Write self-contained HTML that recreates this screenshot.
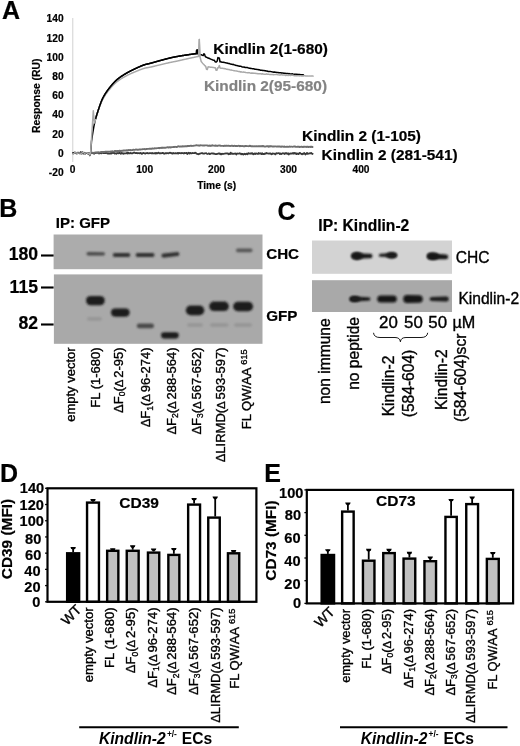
<!DOCTYPE html>
<html><head><meta charset="utf-8"><style>
html,body{margin:0;padding:0;background:#fff;}
svg{display:block;font-family:"Liberation Sans", sans-serif;will-change:transform;}
</style></head><body>
<svg width="520" height="746" viewBox="0 0 520 746">
<defs>
<filter id="bl10" x="-50%" y="-100%" width="200%" height="300%"><feGaussianBlur stdDeviation="1.0"/></filter>
<filter id="bl15" x="-50%" y="-100%" width="200%" height="300%"><feGaussianBlur stdDeviation="1.5"/></filter>
<filter id="bl8" x="-50%" y="-100%" width="200%" height="300%"><feGaussianBlur stdDeviation="0.8"/></filter>
<filter id="bl9" x="-50%" y="-100%" width="200%" height="300%"><feGaussianBlur stdDeviation="0.9"/></filter>
<filter id="bl12" x="-50%" y="-100%" width="200%" height="300%"><feGaussianBlur stdDeviation="1.2"/></filter>
<filter id="bl5" x="-50%" y="-100%" width="200%" height="300%"><feGaussianBlur stdDeviation="0.5"/></filter>
</defs>
<rect width="520" height="746" fill="#fff"/>
<text x="2" y="19" font-size="25" font-weight="bold" text-anchor="start" fill="#000" stroke="#000" stroke-width="0.2">A</text>
<line x1="72.7" y1="18" x2="72.7" y2="162" stroke="#dedede" stroke-width="1.4"/>
<text x="63.6" y="22.200000000000003" font-size="10.2" font-weight="bold" text-anchor="end" fill="#000" stroke="#000" stroke-width="0.2">140</text>
<text x="63.6" y="41.6" font-size="10.2" font-weight="bold" text-anchor="end" fill="#000" stroke="#000" stroke-width="0.2">120</text>
<text x="63.6" y="60.800000000000004" font-size="10.2" font-weight="bold" text-anchor="end" fill="#000" stroke="#000" stroke-width="0.2">100</text>
<text x="63.6" y="80.0" font-size="10.2" font-weight="bold" text-anchor="end" fill="#000" stroke="#000" stroke-width="0.2">80</text>
<text x="63.6" y="99.19999999999999" font-size="10.2" font-weight="bold" text-anchor="end" fill="#000" stroke="#000" stroke-width="0.2">60</text>
<text x="63.6" y="118.39999999999999" font-size="10.2" font-weight="bold" text-anchor="end" fill="#000" stroke="#000" stroke-width="0.2">40</text>
<text x="63.6" y="137.79999999999998" font-size="10.2" font-weight="bold" text-anchor="end" fill="#000" stroke="#000" stroke-width="0.2">20</text>
<text x="63.6" y="157.1" font-size="10.2" font-weight="bold" text-anchor="end" fill="#000" stroke="#000" stroke-width="0.2">0</text>
<text x="63.6" y="176.4" font-size="10.2" font-weight="bold" text-anchor="end" fill="#000" stroke="#000" stroke-width="0.2">-20</text>
<text x="72.5" y="172.7" font-size="10.2" font-weight="bold" text-anchor="middle" fill="#000" stroke="#000" stroke-width="0.2">0</text>
<text x="144.7" y="172.7" font-size="10.2" font-weight="bold" text-anchor="middle" fill="#000" stroke="#000" stroke-width="0.2">100</text>
<text x="216.5" y="172.7" font-size="10.2" font-weight="bold" text-anchor="middle" fill="#000" stroke="#000" stroke-width="0.2">200</text>
<text x="288.5" y="172.7" font-size="10.2" font-weight="bold" text-anchor="middle" fill="#000" stroke="#000" stroke-width="0.2">300</text>
<text x="361" y="172.7" font-size="10.2" font-weight="bold" text-anchor="middle" fill="#000" stroke="#000" stroke-width="0.2">400</text>
<text x="216.7" y="189" font-size="10.2" font-weight="bold" text-anchor="middle" fill="#000" stroke="#000" stroke-width="0.2">Time (s)</text>
<text x="39.8" y="95.7" font-size="10.4" font-weight="bold" text-anchor="middle" fill="#000" stroke="#000" stroke-width="0.2" transform="rotate(-90 39.8 95.7)">Response (RU)</text>
<polyline points="72.50,153.74 73.20,153.33 73.90,153.23 74.60,152.64 75.30,153.12 76.00,153.09 76.70,153.18 77.40,153.01 78.10,153.19 78.80,153.06 79.50,152.81 80.20,153.47 80.90,153.46 81.60,153.71 82.30,153.22 83.00,153.08 83.70,153.04 84.40,152.74 85.10,153.49 85.80,152.87 86.50,152.84 87.20,153.14 87.90,153.65 88.60,153.27 89.30,152.89 90.00,152.99 90.70,153.39 91.40,153.15 92.10,152.97 92.80,153.13 93.50,153.42 94.20,153.79 94.90,152.83 95.60,153.01 96.30,152.96 97.00,152.47 97.70,152.92 98.40,152.89 99.10,153.54 99.80,153.16 100.50,152.71 101.20,153.39 101.90,153.09 102.60,152.68 103.30,153.02 104.00,153.02 104.70,152.94 105.40,153.21 106.10,152.53 106.80,153.12 107.50,153.50 108.20,153.46 108.90,153.53 109.60,153.54 110.30,153.65 111.00,152.86 111.70,153.45 112.40,152.64 113.10,153.02 113.80,152.63 114.50,153.51 115.20,153.60 115.90,153.14 116.60,153.73 117.30,153.00 118.00,153.25 118.70,153.25 119.40,152.88 120.10,153.33 120.80,153.78 121.50,152.89 122.20,153.47 122.90,153.15 123.60,153.73 124.30,153.35 125.00,153.40 125.70,153.39 126.40,153.27 127.10,152.78 127.80,153.62 128.50,152.79 129.20,153.27 129.90,153.38 130.60,152.95 131.30,153.24 132.00,153.55 132.70,153.19 133.40,152.93 134.10,152.33 134.80,152.91 135.50,153.02 136.20,153.05 136.90,152.91 137.60,153.31 138.30,153.03 139.00,153.17 139.70,153.40 140.40,152.94 141.10,153.11 141.80,153.85 142.50,153.46 143.20,152.81 143.90,153.18 144.60,153.37 145.30,153.57 146.00,153.24 146.70,153.04 147.40,152.98 148.10,153.39 148.80,153.29 149.50,153.05 150.20,153.14 150.90,153.08 151.60,153.42 152.30,152.99 153.00,153.35 153.70,153.46 154.40,153.35 155.10,152.95 155.80,153.60 156.50,153.00 157.20,153.33 157.90,152.97 158.60,152.68 159.30,153.27 160.00,153.29 160.70,153.18 161.40,153.28 162.10,153.01 162.80,152.98 163.50,153.15 164.20,153.77 164.90,153.44 165.60,153.04 166.30,153.37 167.00,153.06 167.70,153.06 168.40,153.46 169.10,153.04 169.80,152.70 170.50,152.93 171.20,153.23 171.90,153.24 172.60,153.57 173.30,152.99 174.00,153.42 174.70,153.33 175.40,153.16 176.10,153.45 176.80,153.35 177.50,152.94 178.20,153.52 178.90,152.83 179.60,153.22 180.30,153.20 181.00,153.33 181.70,152.98 182.40,153.19 183.10,153.16 183.80,153.50 184.50,152.96 185.20,153.22 185.90,153.12 186.60,152.81 187.30,154.00 188.00,153.18 188.70,152.75 189.40,153.62 190.10,152.88 190.80,153.31 191.50,153.46 192.20,153.01 192.90,153.07 193.60,153.04 194.30,153.16 195.00,152.71 195.70,152.83 196.40,153.57 197.10,153.96 197.80,154.03 198.50,154.23 199.20,153.64 199.90,153.80 200.60,153.47 201.30,153.04 202.00,153.26 202.70,153.26 203.40,153.72 204.10,153.70 204.80,153.43 205.50,153.25 206.20,153.04 206.90,153.76 207.60,154.00 208.30,153.72 209.00,153.30 209.70,154.01 210.40,153.82 211.10,153.49 211.80,153.36 212.50,153.37 213.20,153.78 213.90,153.43 214.60,153.81 215.30,154.02 216.00,154.07 216.70,154.01 217.40,153.84 218.10,153.68 218.80,153.33 219.50,153.33 220.20,154.20 220.90,153.66 221.60,154.23 222.30,153.76 223.00,154.03 223.70,153.76 224.40,153.59 225.10,153.55 225.80,153.41 226.50,153.45 227.20,153.63 227.90,153.34 228.60,154.25 229.30,153.61 230.00,154.12 230.70,152.63 231.40,153.65 232.10,153.90 232.80,153.48 233.50,153.90 234.20,153.87 234.90,153.38 235.60,153.63 236.30,154.52 237.00,153.49 237.70,153.57 238.40,153.53 239.10,153.69 239.80,153.15 240.50,153.63 241.20,154.24 241.90,153.74 242.60,153.97 243.30,154.56 244.00,154.03 244.70,153.70 245.40,154.27 246.10,154.06 246.80,153.64 247.50,154.23 248.20,153.10 248.90,153.59 249.60,153.61 250.30,153.33 251.00,153.77 251.70,153.27 252.40,153.23 253.10,154.36 253.80,154.02 254.50,153.49 255.20,154.04 255.90,153.41 256.60,153.70 257.30,153.74 258.00,154.05 258.70,153.02 259.40,153.63 260.10,153.58 260.80,153.27 261.50,154.03 262.20,153.24 262.90,154.11 263.60,153.89 264.30,154.01 265.00,153.48 265.70,153.72 266.40,152.94 267.10,153.43 267.80,153.35 268.50,153.72 269.20,153.49 269.90,153.62 270.60,153.40 271.30,154.27 272.00,154.19 272.70,153.43 273.40,153.58 274.10,153.56 274.80,153.95 275.50,154.40 276.20,153.13 276.90,153.26 277.60,153.32 278.30,153.22 279.00,153.05 279.70,153.93 280.40,153.41 281.10,154.08 281.80,153.72 282.50,153.25 283.20,153.51 283.90,153.22 284.60,154.01 285.30,153.54 286.00,153.00 286.70,153.63 287.40,153.76 288.10,153.31 288.80,154.46 289.50,153.61 290.20,153.74 290.90,153.39 291.60,153.67 292.30,153.58 293.00,153.03 293.70,153.68 294.40,153.01 295.10,153.67 295.80,153.14 296.50,154.12 297.20,153.51 297.90,153.93 298.60,154.13 299.30,153.11 300.00,152.82 300.70,153.44 301.40,153.88 302.10,154.35 302.80,153.66 303.50,153.88 304.20,152.99 304.90,153.88 305.60,154.50 306.30,153.65 307.00,152.96 307.70,153.90 308.40,153.53 309.10,153.57 309.80,153.18 310.50,153.44 311.20,152.94 311.90,153.66 312.60,153.89 313.30,154.33" fill="none" stroke="#383838" stroke-width="1.8" stroke-linejoin="round"/>
<polyline points="72.50,153.15 73.30,153.30 74.10,152.87 74.90,152.44 75.70,152.60 76.50,153.50 77.30,152.82 78.10,152.80 78.90,152.75 79.70,153.20 80.50,152.82 81.30,152.74 82.10,152.55 82.90,152.97 83.70,153.30 84.50,152.96 85.30,153.26 86.10,153.05 86.90,153.04 87.70,153.05 88.50,153.01 89.30,153.31 90.10,153.07 90.90,152.85 91.70,152.90 92.50,152.81 93.30,152.84 94.10,152.74 94.90,152.71 95.70,152.37 96.50,152.60 97.30,152.68 98.10,152.22 98.90,152.61 99.70,152.36 100.50,152.22 101.30,151.93 102.10,152.30 102.90,151.94 103.70,151.95 104.50,152.05 105.30,151.76 106.10,151.71 106.90,151.63 107.70,151.73 108.50,151.77 109.30,151.69 110.10,151.63 110.90,151.46 111.70,151.48 112.50,151.30 113.30,151.64 114.10,151.32 114.90,150.94 115.70,151.01 116.50,151.36 117.30,150.86 118.10,150.94 118.90,151.01 119.70,150.73 120.50,150.99 121.30,151.03 122.10,150.60 122.90,150.83 123.70,150.47 124.50,150.40 125.30,150.53 126.10,150.47 126.90,150.29 127.70,150.45 128.50,150.05 129.30,150.08 130.10,149.99 130.90,150.21 131.70,150.16 132.50,150.08 133.30,149.73 134.10,149.89 134.90,149.88 135.70,149.51 136.50,149.57 137.30,149.74 138.10,149.69 138.90,149.57 139.70,149.55 140.50,149.46 141.30,149.38 142.10,149.28 142.90,149.11 143.70,149.15 144.50,149.07 145.30,149.42 146.10,149.05 146.90,148.96 147.70,148.87 148.50,148.83 149.30,148.75 150.10,148.81 150.90,148.67 151.70,148.74 152.50,148.46 153.30,148.56 154.10,148.58 154.90,148.22 155.70,148.36 156.50,148.31 157.30,148.17 158.10,148.09 158.90,147.83 159.70,148.22 160.50,147.85 161.30,147.75 162.10,147.98 162.90,147.55 163.70,147.91 164.50,147.77 165.30,147.74 166.10,147.57 166.90,147.36 167.70,147.20 168.50,147.64 169.30,147.30 170.10,147.23 170.90,147.49 171.70,147.10 172.50,147.10 173.30,147.05 174.10,147.01 174.90,146.81 175.70,146.83 176.50,147.05 177.30,146.91 178.10,146.30 178.90,146.39 179.70,146.68 180.50,146.56 181.30,146.46 182.10,146.61 182.90,146.13 183.70,146.52 184.50,146.31 185.30,146.31 186.10,146.21 186.90,146.24 187.70,146.02 188.50,145.92 189.30,146.06 190.10,145.92 190.90,145.65 191.70,145.98 192.50,145.90 193.30,145.88 194.10,145.62 194.90,145.60 195.70,145.44 196.50,145.29 197.30,145.41 198.10,145.44 198.90,145.33 199.70,145.71 200.50,145.21 201.30,145.34 202.10,145.37 202.90,145.67 203.70,145.45 204.50,145.45 205.30,145.38 206.10,145.41 206.90,145.34 207.70,145.70 208.50,145.65 209.30,145.72 210.10,145.48 210.90,145.97 211.70,145.45 212.50,145.30 213.30,145.58 214.10,145.65 214.90,145.76 215.70,145.50 216.50,145.76 217.30,145.93 218.10,145.56 218.90,145.59 219.70,145.45 220.50,145.76 221.30,145.86 222.10,145.86 222.90,145.88 223.70,145.98 224.50,145.80 225.30,145.93 226.10,145.66 226.90,145.69 227.70,145.86 228.50,145.71 229.30,145.93 230.10,146.06 230.90,145.92 231.70,145.76 232.50,145.77 233.30,146.10 234.10,145.79 234.90,145.93 235.70,145.89 236.50,145.95 237.30,146.12 238.10,145.88 238.90,145.76 239.70,146.20 240.50,146.03 241.30,146.11 242.10,146.01 242.90,146.14 243.70,146.23 244.50,146.25 245.30,146.02 246.10,146.02 246.90,146.14 247.70,146.12 248.50,146.19 249.30,146.01 250.10,145.78 250.90,146.20 251.70,146.27 252.50,146.26 253.30,146.42 254.10,146.31 254.90,146.13 255.70,146.35 256.50,146.20 257.30,146.41 258.10,146.27 258.90,146.31 259.70,146.29 260.50,146.28 261.30,146.05 262.10,146.30 262.90,145.96 263.70,146.39 264.50,146.47 265.30,146.64 266.10,146.40 266.90,146.25 267.70,146.13 268.50,146.67 269.30,146.17 270.10,146.53 270.90,146.06 271.70,146.41 272.50,146.53 273.30,146.49 274.10,146.45 274.90,146.34 275.70,146.34 276.50,146.64 277.30,146.56 278.10,146.48 278.90,146.55 279.70,146.39 280.50,146.70 281.30,146.74 282.10,146.45 282.90,146.59 283.70,146.74 284.50,146.50 285.30,146.91 286.10,146.85 286.90,146.59 287.70,146.79 288.50,146.90 289.30,146.48 290.10,146.77 290.90,146.66 291.70,146.66 292.50,146.81 293.30,146.65 294.10,146.52 294.90,146.53 295.70,146.75 296.50,146.86 297.30,146.77 298.10,146.76 298.90,146.79 299.70,147.00 300.50,146.89 301.30,146.71 302.10,146.79 302.90,147.03 303.70,146.77 304.50,146.81 305.30,146.88 306.10,146.73 306.90,147.04 307.70,146.59 308.50,147.14 309.30,146.87 310.10,146.76 310.90,147.00 311.70,146.71 312.50,147.06 313.30,147.11" fill="none" stroke="#6e6e6e" stroke-width="1.9" stroke-linejoin="round"/>
<polyline points="72.50,152.80 73.30,152.86 74.10,153.33 74.90,152.77 75.70,153.01 76.50,153.12 77.30,153.55 78.10,152.82 78.90,153.01 79.70,153.40 80.50,152.11 81.30,152.91 82.10,152.33 82.90,152.36 83.70,153.68 84.50,153.07 85.30,153.52 86.10,152.92 86.90,153.19 87.70,152.85 88.50,152.81 89.00,153.50 89.80,155.60 90.80,151.50 91.50,141.27 91.85,138.82 92.20,136.50 92.55,134.27 92.90,132.10 93.25,130.01 93.60,128.00 93.95,126.11 94.30,124.34 94.65,122.72 95.00,121.23 95.35,119.83 95.70,118.51 96.05,117.25 96.40,116.05 96.75,114.90 97.10,113.78 97.45,112.69 97.80,111.61 98.15,110.53 98.50,109.47 98.85,108.41 99.20,107.37 99.55,106.34 99.90,105.33 100.25,104.35 100.60,103.39 100.95,102.46 101.30,101.57 101.65,100.71 102.00,99.90 102.35,99.13 102.70,98.40 103.05,97.71 103.40,97.04 103.75,96.40 104.10,95.77 104.45,95.17 104.80,94.58 105.15,94.01 105.50,93.45 105.85,92.91 106.20,92.39 106.55,91.87 106.90,91.37 107.25,90.88 107.60,90.39 107.95,89.92 108.30,89.45 108.65,88.99 109.00,88.53 109.35,88.08 109.70,87.63 110.05,87.18 110.40,86.74 110.75,86.31 111.10,85.88 111.45,85.46 111.80,85.04 112.15,84.63 112.50,84.22 112.85,83.83 113.20,83.43 113.55,83.05 113.90,82.67 114.25,82.30 114.60,81.94 114.95,81.58 115.30,81.24 115.65,80.90 116.00,80.57 116.35,80.24 116.70,79.93 117.05,79.63 117.40,79.33 117.75,79.04 118.10,78.76 118.45,78.48 118.80,78.21 119.15,77.94 119.50,77.68 119.85,77.42 120.20,77.17 120.55,76.92 120.90,76.68 121.25,76.44 121.60,76.20 121.95,75.97 122.30,75.74 122.65,75.51 123.00,75.29 123.35,75.06 123.70,74.85 124.05,74.63 124.40,74.42 124.75,74.21 125.10,74.00 125.45,73.79 125.80,73.58 126.15,73.38 126.50,73.17 126.85,72.97 127.20,72.77 127.55,72.57 127.90,72.37 128.25,72.18 128.60,71.99 128.95,71.80 129.30,71.61 129.65,71.42 130.00,71.24 130.35,71.06 130.70,70.88 131.05,70.70 131.40,70.52 131.75,70.35 132.10,70.17 132.45,70.00 132.80,69.83 133.15,69.66 133.50,69.49 133.85,69.33 134.20,69.16 134.55,69.00 134.90,68.83 135.25,68.67 135.60,68.51 135.95,68.35 136.30,68.19 136.65,68.03 137.00,67.87 137.35,67.71 137.70,67.55 138.05,67.39 138.40,67.23 138.75,67.07 139.10,66.91 139.45,66.76 139.80,66.60 140.15,66.45 140.50,66.29 140.85,66.14 141.20,65.99 141.55,65.85 141.90,65.70 142.25,65.56 142.60,65.43 142.95,65.29 143.30,65.16 143.65,65.04 144.00,64.92 144.35,64.80 144.70,64.69 145.05,64.59 145.40,64.49 145.75,64.39 146.10,64.30 146.45,64.22 146.80,64.13 147.15,64.05 147.50,63.97 147.85,63.90 148.20,63.82 148.55,63.74 148.90,63.66 149.25,63.58 149.60,63.50 149.95,63.41 150.30,63.32 150.65,63.23 151.00,63.14 151.35,63.04 151.70,62.95 152.05,62.85 152.40,62.76 152.75,62.66 153.10,62.56 153.45,62.46 153.80,62.36 154.15,62.26 154.50,62.16 154.85,62.06 155.20,61.96 155.55,61.85 155.90,61.75 156.25,61.65 156.60,61.55 156.95,61.45 157.30,61.35 157.65,61.25 158.00,61.15 158.35,61.05 158.70,60.95 159.05,60.86 159.40,60.76 159.75,60.67 160.10,60.57 160.45,60.48 160.80,60.39 161.15,60.29 161.50,60.20 161.85,60.10 162.20,60.01 162.55,59.91 162.90,59.82 163.25,59.72 163.60,59.63 163.95,59.53 164.30,59.44 164.65,59.34 165.00,59.25 165.35,59.16 165.70,59.06 166.05,58.97 166.40,58.88 166.75,58.79 167.10,58.70 167.45,58.61 167.80,58.52 168.15,58.43 168.50,58.34 168.85,58.25 169.20,58.16 169.55,58.08 169.90,57.99 170.25,57.91 170.60,57.83 170.95,57.75 171.30,57.67 171.65,57.59 172.00,57.51 172.35,57.44 172.70,57.36 173.05,57.29 173.40,57.22 173.75,57.15 174.10,57.08 174.45,57.01 174.80,56.94 175.15,56.87 175.50,56.80 175.85,56.74 176.20,56.67 176.55,56.61 176.90,56.54 177.25,56.48 177.60,56.42 177.95,56.36 178.30,56.29 178.65,56.23 179.00,56.17 179.35,56.11 179.70,56.05 180.05,55.99 180.40,55.94 180.75,55.88 181.10,55.82 181.45,55.76 181.80,55.71 182.15,55.65 182.50,55.59 182.85,55.54 183.20,55.48 183.55,55.43 183.90,55.37 184.25,55.32 184.60,55.26 184.95,55.21 185.30,55.15 185.65,55.10 186.00,55.05 186.35,54.99 186.70,54.94 187.05,54.89 187.40,54.84 187.75,54.78 188.10,54.73 188.45,54.68 188.80,54.63 189.15,54.58 189.50,54.53 189.85,54.48 190.20,54.43 190.55,54.38 190.90,54.33 191.25,54.28 191.60,54.23 191.95,54.19 192.30,54.14 192.65,54.09 193.00,54.05 193.35,54.00 193.70,53.95 194.05,53.91 194.40,53.86 194.75,53.82 195.10,53.77 195.45,53.73 195.80,53.69 196.15,53.64 196.60,50.00 197.20,53.80 197.80,49.80 198.30,54.00 199.00,54.15 199.70,54.36 200.40,54.67 201.10,54.66 201.80,54.94 202.50,55.16 203.20,55.55 203.90,53.77 204.60,54.39 205.30,56.61 206.00,57.00 206.70,57.30 207.40,57.74 208.10,58.00 208.80,58.25 209.50,58.56 210.20,58.86 210.90,59.17 211.60,59.40 212.30,59.74 213.00,60.02 213.70,60.16 214.40,60.20 215.10,61.72 215.80,61.96 216.50,61.89 217.20,61.06 217.90,57.56 218.60,58.00 219.30,57.96 220.00,61.89 220.70,61.60 221.40,61.99 222.10,62.18 222.80,62.21 223.50,62.30 224.20,62.55 224.90,62.61 225.60,62.78 226.30,62.96 227.00,63.07 227.70,63.27 228.40,63.54 229.10,63.59 229.80,63.81 230.50,63.89 231.20,64.24 231.90,64.19 232.60,64.59 233.30,64.37 234.00,64.76 234.70,64.87 235.40,65.30 236.10,65.40 236.80,65.41 237.50,65.65 238.20,66.01 238.90,66.03 239.60,66.25 240.30,66.20 241.00,66.35 241.70,66.70 242.40,67.02 243.10,66.88 243.80,67.13 244.50,67.12 245.20,67.48 245.90,67.44 246.60,67.58 247.30,67.57 248.00,67.85 248.70,68.04 249.40,68.29 250.10,68.16 250.80,68.50 251.50,68.50 252.20,68.63 252.90,68.68 253.60,68.73 254.30,68.90 255.00,69.30 255.70,69.14 256.40,69.34 257.10,69.61 257.80,69.40 258.50,69.77 259.20,69.79 259.90,69.98 260.60,70.16 261.30,70.17 262.00,70.28 262.70,70.49 263.40,70.59 264.10,70.57 264.80,70.73 265.50,70.72 266.20,71.09 266.90,70.95 267.60,71.19 268.30,71.45 269.00,71.46 269.70,71.45 270.40,71.51 271.10,71.62 271.80,71.87 272.50,71.91 273.20,71.97 273.90,72.32 274.60,72.06 275.30,72.18 276.00,72.28 276.70,72.43 277.40,72.52 278.10,72.54 278.80,72.72 279.50,72.78 280.20,72.78 280.90,72.64 281.60,73.04 282.30,72.94 283.00,73.04 283.70,73.17 284.40,73.13 285.10,73.24 285.80,73.40 286.50,73.42 287.20,73.56 287.90,73.51 288.60,73.64 289.30,73.62 290.00,73.76 290.70,73.88 291.40,73.90 292.10,73.84 292.80,74.03 293.50,74.12 294.20,74.28 294.90,74.23 295.60,74.25 296.30,74.23 297.00,74.61 297.70,74.37 298.40,74.41 299.10,74.56 299.80,74.45 300.50,74.80 301.20,74.76 301.90,74.84 302.60,74.75 303.30,74.85 304.00,75.04" fill="none" stroke="#000" stroke-width="1.5" stroke-linejoin="round"/>
<polyline points="72.50,153.25 73.30,153.83 74.10,153.31 74.90,152.41 75.70,153.01 76.50,152.87 77.30,153.31 78.10,152.95 78.90,153.13 79.70,152.89 80.50,153.16 81.30,153.42 82.10,152.80 82.90,152.37 83.70,152.67 84.50,153.45 85.30,153.05 86.10,152.89 86.90,152.69 87.70,153.30 88.50,153.07 89.30,152.95 89.80,155.00 90.60,153.00 93.30,110.80 93.90,118.00 94.50,123.00 95.00,121.32 95.35,119.94 95.70,118.63 96.05,117.40 96.40,116.22 96.75,115.08 97.10,113.98 97.45,112.92 97.80,111.87 98.15,110.83 98.50,109.80 98.85,108.78 99.20,107.78 99.55,106.80 99.90,105.84 100.25,104.91 100.60,104.00 100.95,103.13 101.30,102.29 101.65,101.48 102.00,100.72 102.35,100.00 102.70,99.32 103.05,98.68 103.40,98.06 103.75,97.46 104.10,96.88 104.45,96.31 104.80,95.76 105.15,95.22 105.50,94.70 105.85,94.19 106.20,93.69 106.55,93.20 106.90,92.73 107.25,92.26 107.60,91.80 107.95,91.36 108.30,90.91 108.65,90.47 109.00,90.04 109.35,89.61 109.70,89.18 110.05,88.76 110.40,88.35 110.75,87.93 111.10,87.53 111.45,87.13 111.80,86.73 112.15,86.34 112.50,85.96 112.85,85.58 113.20,85.21 113.55,84.84 113.90,84.49 114.25,84.14 114.60,83.79 114.95,83.46 115.30,83.13 115.65,82.81 116.00,82.51 116.35,82.20 116.70,81.91 117.05,81.63 117.40,81.36 117.75,81.09 118.10,80.83 118.45,80.57 118.80,80.32 119.15,80.07 119.50,79.83 119.85,79.60 120.20,79.37 120.55,79.14 120.90,78.91 121.25,78.69 121.60,78.48 121.95,78.27 122.30,78.06 122.65,77.85 123.00,77.65 123.35,77.45 123.70,77.25 124.05,77.06 124.40,76.86 124.75,76.67 125.10,76.48 125.45,76.30 125.80,76.11 126.15,75.93 126.50,75.74 126.85,75.56 127.20,75.38 127.55,75.20 127.90,75.02 128.25,74.85 128.60,74.68 128.95,74.51 129.30,74.34 129.65,74.17 130.00,74.01 130.35,73.85 130.70,73.69 131.05,73.53 131.40,73.37 131.75,73.21 132.10,73.06 132.45,72.91 132.80,72.75 133.15,72.60 133.50,72.45 133.85,72.31 134.20,72.16 134.55,72.01 134.90,71.87 135.25,71.73 135.60,71.58 135.95,71.44 136.30,71.30 136.65,71.16 137.00,71.02 137.35,70.88 137.70,70.74 138.05,70.59 138.40,70.45 138.75,70.31 139.10,70.17 139.45,70.03 139.80,69.89 140.15,69.75 140.50,69.62 140.85,69.48 141.20,69.35 141.55,69.22 141.90,69.10 142.25,68.98 142.60,68.86 142.95,68.74 143.30,68.63 143.65,68.52 144.00,68.42 144.35,68.32 144.70,68.23 145.05,68.14 145.40,68.06 145.75,67.98 146.10,67.91 146.45,67.84 146.80,67.77 147.15,67.71 147.50,67.65 147.85,67.59 148.20,67.53 148.55,67.47 148.90,67.40 149.25,67.34 149.60,67.27 149.95,67.20 150.30,67.13 150.65,67.05 151.00,66.98 151.35,66.90 151.70,66.82 152.05,66.74 152.40,66.66 152.75,66.57 153.10,66.49 153.45,66.41 153.80,66.32 154.15,66.24 154.50,66.15 154.85,66.06 155.20,65.98 155.55,65.89 155.90,65.80 156.25,65.72 156.60,65.63 156.95,65.54 157.30,65.45 157.65,65.37 158.00,65.28 158.35,65.20 158.70,65.11 159.05,65.03 159.40,64.94 159.75,64.86 160.10,64.78 160.45,64.69 160.80,64.61 161.15,64.53 161.50,64.45 161.85,64.37 162.20,64.28 162.55,64.20 162.90,64.12 163.25,64.04 163.60,63.95 163.95,63.87 164.30,63.79 164.65,63.71 165.00,63.63 165.35,63.55 165.70,63.47 166.05,63.38 166.40,63.30 166.75,63.22 167.10,63.14 167.45,63.07 167.80,62.99 168.15,62.91 168.50,62.83 168.85,62.75 169.20,62.68 169.55,62.60 169.90,62.53 170.25,62.45 170.60,62.38 170.95,62.30 171.30,62.23 171.65,62.16 172.00,62.09 172.35,62.02 172.70,61.95 173.05,61.88 173.40,61.81 173.75,61.74 174.10,61.67 174.45,61.61 174.80,61.54 175.15,61.47 175.50,61.40 175.85,61.33 176.20,61.26 176.55,61.19 176.90,61.11 177.25,61.04 177.60,60.96 177.95,60.89 178.30,60.81 178.65,60.73 179.00,60.65 179.35,60.57 179.70,60.49 180.05,60.41 180.40,60.33 180.75,60.25 181.10,60.17 181.45,60.09 181.80,60.00 182.15,59.92 182.50,59.84 182.85,59.76 183.20,59.68 183.55,59.60 183.90,59.52 184.25,59.44 184.60,59.36 184.95,59.28 185.30,59.20 185.65,59.12 186.00,59.05 186.35,58.97 186.70,58.90 187.05,58.82 187.40,58.74 187.75,58.67 188.10,58.59 188.45,58.52 188.80,58.44 189.15,58.37 189.50,58.29 189.85,58.21 190.20,58.14 190.55,58.06 190.90,57.99 191.25,57.91 191.60,57.84 191.95,57.76 192.30,57.69 192.65,57.61 193.00,57.54 193.35,57.46 193.70,57.39 194.05,57.32 194.40,57.24 194.75,57.17 195.10,57.09 195.45,57.02 195.80,56.95 196.15,56.87 196.50,56.80 196.85,56.73 197.20,56.65 197.55,56.58 198.60,56.50 199.30,39.40 199.90,56.50 201.20,61.50 202.50,63.13 203.30,64.05 204.10,64.84 204.90,65.66 205.70,66.30 206.50,69.26 207.30,69.53 208.10,66.86 208.90,67.02 209.70,66.94 210.50,67.16 211.30,67.27 212.10,67.35 212.90,67.42 213.70,67.53 214.50,67.71 215.30,67.74 216.10,70.27 216.90,70.28 217.70,67.72 218.50,67.80 219.30,65.51 220.10,68.02 220.90,68.19 221.70,68.24 222.50,68.34 223.30,68.52 224.10,68.43 224.90,68.75 225.70,68.86 226.50,69.20 227.30,69.18 228.10,69.45 228.90,69.53 229.70,69.79 230.50,69.97 231.30,70.02 232.10,70.22 232.90,70.39 233.70,70.63 234.50,70.66 235.30,70.88 236.10,70.98 236.90,71.08 237.70,71.37 238.50,71.55 239.30,71.54 240.10,71.95 240.90,71.79 241.70,72.07 242.50,72.13 243.30,71.98 244.10,72.28 244.90,72.19 245.70,72.45 246.50,72.63 247.30,72.86 248.10,72.81 248.90,72.62 249.70,72.84 250.50,73.13 251.30,73.05 252.10,73.31 252.90,73.08 253.70,73.17 254.50,73.15 255.30,73.33 256.10,73.59 256.90,73.39 257.70,73.67 258.50,73.68 259.30,73.79 260.10,73.72 260.90,73.81 261.70,74.13 262.50,73.78 263.30,74.07 264.10,74.22 264.90,74.14 265.70,74.34 266.50,73.84 267.30,74.21 268.10,74.15 268.90,74.29 269.70,74.38 270.50,74.50 271.30,74.38 272.10,74.63 272.90,74.39 273.70,74.73 274.50,74.63 275.30,74.49 276.10,74.53 276.90,74.57 277.70,74.71 278.50,74.88 279.30,75.07 280.10,75.04 280.90,74.83 281.70,74.75 282.50,75.03 283.30,74.93 284.10,75.12 284.90,75.09 285.70,75.52 286.50,75.04 287.30,75.32 288.10,75.53 288.90,75.30 289.70,75.28 290.50,75.61 291.30,75.19 292.10,75.27 292.90,75.36 293.70,75.58 294.50,75.66 295.30,75.58 296.10,75.89 296.90,75.63 297.70,75.68 298.50,75.67 299.30,75.89 300.10,75.77 300.90,75.75 301.70,76.02 302.50,76.00 303.30,75.99 304.10,75.75 304.90,75.79 305.70,75.92 306.50,75.94 307.30,75.95 308.10,75.99 308.90,76.12 309.70,75.95 310.50,76.12 311.30,76.06 312.10,76.07 312.90,76.12 313.70,76.26" fill="none" stroke="#a9a9a9" stroke-width="1.5" stroke-linejoin="round"/>
<polyline points="95.60,118.88 95.95,117.60 96.30,116.39 96.65,115.22 97.00,114.09 97.35,113.00 97.70,111.91 98.05,110.84 98.40,109.77 98.75,108.71 99.10,107.66 99.45,106.63 99.80,105.62 100.15,104.63 100.50,103.66 100.85,102.73 101.20,101.82 101.55,100.95 101.90,100.13 102.25,99.34 102.60,98.60 102.95,97.91 103.30,97.23 103.65,96.58 104.00,95.95 104.35,95.34 104.70,94.75 105.05,94.17 105.40,93.61 105.75,93.07 106.10,92.54 106.45,92.02 106.80,91.51 107.15,91.02 107.50,90.53 107.85,90.05 108.20,89.58 108.55,89.12 108.90,88.66 109.25,88.21 109.60,87.76 109.95,87.31 110.30,86.87 110.65,86.43 111.00,86.00 111.35,85.58 111.70,85.16 112.05,84.75 112.40,84.34 112.75,83.94 113.10,83.54 113.45,83.16 113.80,82.78 114.15,82.41 114.50,82.04 114.85,81.68 115.20,81.33 115.55,80.99 115.90,80.66 116.25,80.34 116.60,80.02 116.95,79.71 117.30,79.42 117.65,79.13 118.00,78.84 118.35,78.56 118.70,78.29 119.05,78.02 119.40,77.75 119.75,77.50 120.10,77.24 120.45,76.99 120.80,76.75 121.15,76.50 121.50,76.27 121.85,76.03 122.20,75.80 122.55,75.57 122.90,75.35 123.25,75.13 123.60,74.91 123.95,74.69 124.30,74.48 124.65,74.27 125.00,74.06 125.35,73.85 125.70,73.64 126.05,73.44 126.40,73.23 126.75,73.03 127.10,72.83 127.45,72.63 127.80,72.43 128.15,72.24 128.50,72.04 128.85,71.85 129.20,71.66 129.55,71.48 129.90,71.29 130.25,71.11 130.60,70.93 130.95,70.75 131.30,70.57 131.65,70.40 132.00,70.22 132.35,70.05 132.70,69.88 133.05,69.71 133.40,69.54 133.75,69.37 134.10,69.21 134.45,69.04 134.80,68.88 135.15,68.72 135.50,68.56 135.85,68.40 136.20,68.24 136.55,68.08 136.90,67.92 137.25,67.76 137.60,67.60 137.95,67.44 138.30,67.28 138.65,67.12 139.00,66.96 139.35,66.80 139.70,66.64 140.05,66.49 140.40,66.34 140.75,66.18 141.10,66.03 141.45,65.89 141.80,65.74 142.15,65.60 142.50,65.46 142.85,65.33 143.20,65.20 143.55,65.07 143.90,64.95 144.25,64.83 144.60,64.72 144.95,64.61 145.30,64.51 145.65,64.42 146.00,64.33 146.35,64.24 146.70,64.16 147.05,64.08 147.40,64.00 147.75,63.92 148.10,63.84 148.45,63.77 148.80,63.69 149.15,63.61 149.50,63.52 149.85,63.44 150.20,63.35 150.55,63.26 150.90,63.16 151.25,63.07 151.60,62.98 151.95,62.88 152.30,62.78 152.65,62.69 153.00,62.59 153.35,62.49 153.70,62.39 154.05,62.29 154.40,62.19 154.75,62.09 155.10,61.98 155.45,61.88 155.80,61.78 156.15,61.68 156.50,61.58 156.85,61.48 157.20,61.38 157.55,61.28 157.90,61.18 158.25,61.08 158.60,60.98 158.95,60.89 159.30,60.79 159.65,60.69 160.00,60.60 160.35,60.51 160.70,60.41 161.05,60.32 161.40,60.22 161.75,60.13 162.10,60.03 162.45,59.94 162.80,59.84 163.15,59.75 163.50,59.65 163.85,59.56 164.20,59.47 164.55,59.37 164.90,59.28 165.25,59.18 165.60,59.09 165.95,59.00 166.30,58.90 166.65,58.81 167.00,58.72 167.35,58.63 167.70,58.54 168.05,58.45 168.40,58.36 168.75,58.28 169.10,58.19 169.45,58.10 169.80,58.02 170.15,57.94 170.50,57.85 170.85,57.77 171.20,57.69 171.55,57.61 171.90,57.53 172.25,57.46 172.60,57.38 172.95,57.31 173.30,57.24 173.65,57.17 174.00,57.10 174.35,57.03 174.70,56.96 175.05,56.89 175.40,56.82 175.75,56.76 176.10,56.69 176.45,56.63 176.80,56.56 177.15,56.50 177.50,56.44 177.85,56.37 178.20,56.31 178.55,56.25 178.90,56.19 179.25,56.13 179.60,56.07 179.95,56.01 180.30,55.95 180.65,55.89 181.00,55.84 181.35,55.78 181.70,55.72 182.05,55.67 182.40,55.61 182.75,55.55 183.10,55.50 183.45,55.44 183.80,55.39 184.15,55.33 184.50,55.28 184.85,55.22 185.20,55.17 185.55,55.12 185.90,55.06 186.25,55.01 186.60,54.96 186.95,54.90 187.30,54.85 187.65,54.80 188.00,54.75 188.35,54.70 188.70,54.64 189.05,54.59 189.40,54.54 189.75,54.49 190.10,54.44 190.45,54.39 190.80,54.35 191.15,54.30 191.50,54.25 191.85,54.20 192.20,54.15 192.55,54.11 192.90,54.06 193.25,54.01 193.60,53.97 193.95,53.92 194.30,53.88 194.65,53.83 195.00,53.79 195.35,53.74 195.70,53.70 196.05,53.66 196.40,53.61" fill="none" stroke="#000" stroke-width="1.5" stroke-linejoin="round"/>
<polyline points="198.60,56.50 199.30,39.40 199.90,56.50" fill="none" stroke="#a9a9a9" stroke-width="1.3" stroke-linejoin="round"/>
<text x="213.3" y="54.4" font-size="15.4" font-weight="bold" text-anchor="start" fill="#000" stroke="#000" stroke-width="0.2">Kindlin 2(1-680)</text>
<text x="203.9" y="91.2" font-size="15.4" font-weight="bold" text-anchor="start" fill="#838383" stroke="#838383" stroke-width="0.2">Kindlin 2(95-680)</text>
<text x="302.1" y="141.2" font-size="15.4" font-weight="bold" text-anchor="start" fill="#000" stroke="#000" stroke-width="0.2">Kindlin 2 (1-105)</text>
<text x="321.6" y="160.2" font-size="15.4" font-weight="bold" text-anchor="start" fill="#000" stroke="#000" stroke-width="0.2">Kindlin 2 (281-541)</text>
<text x="-0.8" y="217" font-size="25" font-weight="bold" text-anchor="start" fill="#000" stroke="#000" stroke-width="0.2">B</text>
<text x="55.8" y="228" font-size="15" font-weight="bold" text-anchor="start" fill="#000" stroke="#000" stroke-width="0.2">IP: GFP</text>
<rect x="53.60" y="234.50" width="208.90" height="34.70" fill="#acacac"/>
<rect x="53.90" y="274.40" width="208.60" height="69.40" fill="#a9a9a9"/>
<line x1="41.0" y1="255.5" x2="53.6" y2="255.5" stroke="#000" stroke-width="2.1"/>
<text x="38.0" y="260.3" font-size="17.6" font-weight="bold" text-anchor="end" fill="#000" stroke="#000" stroke-width="0.2">180</text>
<line x1="41.0" y1="287.5" x2="53.6" y2="287.5" stroke="#000" stroke-width="2.1"/>
<text x="38.0" y="293.0" font-size="17.6" font-weight="bold" text-anchor="end" fill="#000" stroke="#000" stroke-width="0.2">115</text>
<line x1="41.0" y1="324.5" x2="53.6" y2="324.5" stroke="#000" stroke-width="2.1"/>
<text x="38.0" y="329.3" font-size="17.6" font-weight="bold" text-anchor="end" fill="#000" stroke="#000" stroke-width="0.2">82</text>
<text x="266.2" y="259.3" font-size="15.2" font-weight="bold" text-anchor="start" fill="#000" stroke="#000" stroke-width="0.2">CHC</text>
<text x="266.2" y="321.3" font-size="15.2" font-weight="bold" text-anchor="start" fill="#000" stroke="#000" stroke-width="0.2">GFP</text>
<path d="M88.20,252.10 L103.40,252.20 A1.60,1.60 0 0 1 103.40,255.40 L88.20,255.50 A1.70,1.70 0 0 1 88.20,252.10 Z" fill="#484848" opacity="1.0" filter="url(#bl9)"/>
<path d="M114.80,253.00 L128.30,253.00 A2.00,2.00 0 0 1 128.30,257.00 L114.80,257.00 A2.00,2.00 0 0 1 114.80,253.00 Z" fill="#303030" opacity="1.0" filter="url(#bl9)"/>
<path d="M137.60,253.00 L152.50,253.00 A2.00,2.00 0 0 1 152.50,257.00 L137.60,257.00 A2.00,2.00 0 0 1 137.60,253.00 Z" fill="#303030" opacity="1.0" filter="url(#bl9)"/>
<path d="M163.50,253.50 L177.40,252.00 A2.00,2.00 0 0 1 177.40,256.00 L163.50,257.70 A2.10,2.10 0 0 1 163.50,253.50 Z" fill="#303030" opacity="1.0" filter="url(#bl9)"/>
<path d="M237.80,248.60 L250.70,248.60 A1.80,1.80 0 0 1 250.70,252.20 L237.80,252.20 A1.80,1.80 0 0 1 237.80,248.60 Z" fill="#565656" opacity="1.0" filter="url(#bl9)"/>
<path d="M90.70,295.90 L100.10,295.90 A4.70,4.70 0 0 1 100.10,305.30 L90.70,305.30 A4.70,4.70 0 0 1 90.70,295.90 Z" fill="#1c1c1c" opacity="1.0" filter="url(#bl9)"/>
<path d="M88.90,316.90 L100.10,316.90 A1.90,1.90 0 0 1 100.10,320.70 L88.90,320.70 A1.90,1.90 0 0 1 88.90,316.90 Z" fill="#979797" opacity="1.0" filter="url(#bl12)"/>
<path d="M115.10,308.50 L125.50,308.50 A4.10,4.10 0 0 1 125.50,316.70 L115.10,316.70 A4.10,4.10 0 0 1 115.10,308.50 Z" fill="#1c1c1c" opacity="1.0" filter="url(#bl9)"/>
<path d="M139.10,323.60 L151.70,323.60 A2.30,2.30 0 0 1 151.70,328.20 L139.10,328.20 A2.30,2.30 0 0 1 139.10,323.60 Z" fill="#4a4a4a" opacity="1.0" filter="url(#bl9)"/>
<path d="M164.10,332.20 L175.70,332.20 A3.10,3.10 0 0 1 175.70,338.40 L164.10,338.40 A3.10,3.10 0 0 1 164.10,332.20 Z" fill="#1c1c1c" opacity="1.0" filter="url(#bl9)"/>
<path d="M190.60,305.60 L199.50,305.60 A4.80,4.80 0 0 1 199.50,315.20 L190.60,315.20 A4.80,4.80 0 0 1 190.60,305.60 Z" fill="#1e1e1e" opacity="1.0" filter="url(#bl9)"/>
<path d="M214.00,301.50 L224.10,301.50 A4.80,4.80 0 0 1 224.10,311.10 L214.00,311.10 A4.80,4.80 0 0 1 214.00,301.50 Z" fill="#1e1e1e" opacity="1.0" filter="url(#bl9)"/>
<path d="M237.80,301.80 L248.40,301.80 A4.70,4.70 0 0 1 248.40,311.20 L237.80,311.20 A4.70,4.70 0 0 1 237.80,301.80 Z" fill="#1e1e1e" opacity="1.0" filter="url(#bl9)"/>
<path d="M188.90,323.10 L201.10,323.10 A1.90,1.90 0 0 1 201.10,326.90 L188.90,326.90 A1.90,1.90 0 0 1 188.90,323.10 Z" fill="#989898" opacity="1.0" filter="url(#bl12)"/>
<path d="M211.90,323.10 L226.60,323.10 A1.90,1.90 0 0 1 226.60,326.90 L211.90,326.90 A1.90,1.90 0 0 1 211.90,323.10 Z" fill="#979797" opacity="1.0" filter="url(#bl12)"/>
<path d="M235.90,323.10 L250.10,323.10 A1.90,1.90 0 0 1 250.10,326.90 L235.90,326.90 A1.90,1.90 0 0 1 235.90,323.10 Z" fill="#979797" opacity="1.0" filter="url(#bl12)"/>
<text x="75.0" y="347.4" font-size="13" text-anchor="end" fill="#000" stroke="#000" stroke-width="0.35" transform="rotate(-90 75.0 347.4)">empty vector</text>
<text x="100.4" y="347.4" font-size="13" text-anchor="end" fill="#000" stroke="#000" stroke-width="0.35" transform="rotate(-90 100.4 347.4)">FL (1-680)</text>
<text x="123.0" y="347.4" font-size="13" text-anchor="end" fill="#000" stroke="#000" stroke-width="0.35" transform="rotate(-90 123.0 347.4)">ΔF<tspan font-size="8.5" dy="2.5">0</tspan><tspan dy="-2.5">(</tspan><tspan font-size="0.88em">Δ</tspan><tspan dx="1.8">2-95)</tspan></text>
<text x="150.4" y="347.4" font-size="13" text-anchor="end" fill="#000" stroke="#000" stroke-width="0.35" transform="rotate(-90 150.4 347.4)">ΔF<tspan font-size="8.5" dy="2.5">1</tspan><tspan dy="-2.5">(</tspan><tspan font-size="0.88em">Δ</tspan><tspan dx="1.8">96-274)</tspan></text>
<text x="175.8" y="347.4" font-size="13" text-anchor="end" fill="#000" stroke="#000" stroke-width="0.35" transform="rotate(-90 175.8 347.4)">ΔF<tspan font-size="8.5" dy="2.5">2</tspan><tspan dy="-2.5">(</tspan><tspan font-size="0.88em">Δ</tspan><tspan dx="1.8">288-564)</tspan></text>
<text x="201.0" y="347.4" font-size="13" text-anchor="end" fill="#000" stroke="#000" stroke-width="0.35" transform="rotate(-90 201.0 347.4)">ΔF<tspan font-size="8.5" dy="2.5">3</tspan><tspan dy="-2.5">(</tspan><tspan font-size="0.88em">Δ</tspan><tspan dx="1.8">567-652)</tspan></text>
<text x="225.4" y="347.4" font-size="13" text-anchor="end" fill="#000" stroke="#000" stroke-width="0.35" transform="rotate(-90 225.4 347.4)">ΔLIRMD(<tspan font-size="0.88em">Δ</tspan><tspan dx="1.8">593-597)</tspan></text>
<text x="250.8" y="349.3" font-size="13" text-anchor="end" fill="#000" stroke="#000" stroke-width="0.35" transform="rotate(-90 250.8 349.3)">FL QW/AA <tspan font-size="9.2" dy="-3.8">615</tspan></text>
<text x="277.5" y="219.6" font-size="25" font-weight="bold" text-anchor="start" fill="#000" stroke="#000" stroke-width="0.2">C</text>
<text x="318.3" y="231" font-size="15.6" font-weight="bold" text-anchor="start" fill="#000" stroke="#000" stroke-width="0.2">IP: Kindlin-2</text>
<rect x="312.00" y="240.50" width="140.00" height="33.30" fill="#d3d3d3"/>
<rect x="312.00" y="280.20" width="140.00" height="31.80" fill="#a9a9a9"/>
<text x="455.8" y="262.6" font-size="15.6" text-anchor="start" fill="#000" stroke="#000" stroke-width="0.35">CHC</text>
<text x="458.4" y="303.6" font-size="15.6" text-anchor="start" fill="#000" stroke="#000" stroke-width="0.35">Kindlin-2</text>
<ellipse cx="357.00" cy="256.00" rx="6.00" ry="3.90" fill="#121212" opacity="1.0" filter="url(#bl8)"/>
<path d="M354.80,253.20 L370.20,253.70 A2.30,2.30 0 0 1 370.20,258.30 L354.80,258.80 A2.80,2.80 0 0 1 354.80,253.20 Z" fill="#151515" opacity="1.0" filter="url(#bl8)"/>
<ellipse cx="391.50" cy="255.20" rx="5.40" ry="3.20" fill="#151515" opacity="1.0" filter="url(#bl8)"/>
<path d="M380.30,253.70 L394.60,253.00 A2.20,2.20 0 0 1 394.60,257.40 L380.30,256.70 A1.50,1.50 0 0 1 380.30,253.70 Z" fill="#1a1a1a" opacity="1.0" filter="url(#bl8)"/>
<ellipse cx="433.00" cy="256.30" rx="5.80" ry="3.80" fill="#121212" opacity="1.0" filter="url(#bl8)"/>
<path d="M430.00,253.30 L445.90,254.60 A2.30,2.30 0 0 1 445.90,259.20 L430.00,259.30 A3.00,3.00 0 0 1 430.00,253.30 Z" fill="#151515" opacity="1.0" filter="url(#bl8)"/>
<ellipse cx="355.00" cy="299.00" rx="5.40" ry="3.00" fill="#151515" opacity="1.0" filter="url(#bl8)"/>
<path d="M352.20,296.50 L368.60,297.20 A1.80,1.80 0 0 1 368.60,300.80 L352.20,301.50 A2.50,2.50 0 0 1 352.20,296.50 Z" fill="#1a1a1a" opacity="1.0" filter="url(#bl8)"/>
<path d="M380.70,295.50 L393.30,295.50 A3.50,3.50 0 0 1 393.30,302.50 L380.70,302.50 A3.50,3.50 0 0 1 380.70,295.50 Z" fill="#141414" opacity="1.0" filter="url(#bl8)"/>
<path d="M407.20,295.00 L419.00,295.20 A3.80,3.80 0 0 1 419.00,302.80 L407.20,303.00 A4.00,4.00 0 0 1 407.20,295.00 Z" fill="#121212" opacity="1.0" filter="url(#bl8)"/>
<path d="M431.70,296.90 L446.20,296.50 A2.50,2.50 0 0 1 446.20,301.50 L431.70,301.10 A2.10,2.10 0 0 1 431.70,296.90 Z" fill="#1c1c1c" opacity="1.0" filter="url(#bl8)"/>
<text x="0" y="0" font-size="15.6" text-anchor="start" fill="#000" stroke="#000" stroke-width="0.35" transform="translate(379.1 327.6) scale(1.08 1)">20</text>
<text x="0" y="0" font-size="15.6" text-anchor="start" fill="#000" stroke="#000" stroke-width="0.35" transform="translate(404.1 327.6) scale(1.08 1)">50</text>
<text x="0" y="0" font-size="15.6" text-anchor="start" fill="#000" stroke="#000" stroke-width="0.35" transform="translate(428.3 327.6) scale(1.08 1)">50</text>
<text x="0" y="0" font-size="15.6" text-anchor="start" fill="#000" stroke="#000" stroke-width="0.35" transform="translate(452.4 327.6) scale(1.04 1)">µM</text>
<path d="M373.5,332.8 Q374,337.5 380,337.5 L395,337.5 Q400,337.5 400.4,341.8 Q400.8,337.5 406,337.5 L421,337.5 Q427.2,337.5 427.7,332.8" fill="none" stroke="#000" stroke-width="0.9"/>
<text x="329.8" y="318.3" font-size="15.6" text-anchor="end" fill="#000" stroke="#000" stroke-width="0.35" transform="rotate(-90 329.8 318.3)">non immune</text>
<text x="358.6" y="317.0" font-size="15.6" text-anchor="end" fill="#000" stroke="#000" stroke-width="0.35" transform="rotate(-90 358.6 317.0)">no peptide</text>
<text x="394.4" y="386.0" font-size="15.6" text-anchor="middle" fill="#000" stroke="#000" stroke-width="0.35" transform="rotate(-90 394.4 386.0)">Kindlin-2</text>
<text x="413.8" y="383.5" font-size="15.6" text-anchor="middle" fill="#000" stroke="#000" stroke-width="0.35" transform="rotate(-90 413.8 383.5)">(584-604)</text>
<text x="446.8" y="379.7" font-size="15.6" text-anchor="middle" fill="#000" stroke="#000" stroke-width="0.35" transform="rotate(-90 446.8 379.7)">Kindlin-2</text>
<text x="466" y="377.8" font-size="15.6" text-anchor="middle" fill="#000" stroke="#000" stroke-width="0.35" transform="rotate(-90 466 377.8)">(584-604)scr</text>
<text x="0.0" y="481.7" font-size="25" font-weight="bold" text-anchor="start" fill="#000" stroke="#000" stroke-width="0.2">D</text>
<text x="44.2" y="493.4" font-size="14.6" font-weight="bold" text-anchor="end" fill="#000" stroke="#000" stroke-width="0.2">140</text>
<line x1="45.1" y1="488.3" x2="47.5" y2="488.3" stroke="#000" stroke-width="1.3"/>
<text x="43.9" y="510.2" font-size="14.6" font-weight="bold" text-anchor="end" fill="#000" stroke="#000" stroke-width="0.2">120</text>
<line x1="45.1" y1="504.51428571428573" x2="47.5" y2="504.51428571428573" stroke="#000" stroke-width="1.3"/>
<text x="43.9" y="526.1" font-size="14.6" font-weight="bold" text-anchor="end" fill="#000" stroke="#000" stroke-width="0.2">100</text>
<line x1="45.1" y1="520.7285714285714" x2="47.5" y2="520.7285714285714" stroke="#000" stroke-width="1.3"/>
<text x="41.3" y="543.6" font-size="14.6" font-weight="bold" text-anchor="end" fill="#000" stroke="#000" stroke-width="0.2">80</text>
<line x1="45.1" y1="536.9428571428572" x2="47.5" y2="536.9428571428572" stroke="#000" stroke-width="1.3"/>
<text x="41.3" y="559.9000000000001" font-size="14.6" font-weight="bold" text-anchor="end" fill="#000" stroke="#000" stroke-width="0.2">60</text>
<line x1="45.1" y1="553.1571428571428" x2="47.5" y2="553.1571428571428" stroke="#000" stroke-width="1.3"/>
<text x="40.6" y="576.0" font-size="14.6" font-weight="bold" text-anchor="end" fill="#000" stroke="#000" stroke-width="0.2">40</text>
<line x1="45.1" y1="569.3714285714285" x2="47.5" y2="569.3714285714285" stroke="#000" stroke-width="1.3"/>
<text x="40.6" y="591.7" font-size="14.6" font-weight="bold" text-anchor="end" fill="#000" stroke="#000" stroke-width="0.2">20</text>
<line x1="45.1" y1="585.5857142857143" x2="47.5" y2="585.5857142857143" stroke="#000" stroke-width="1.3"/>
<text x="40.4" y="606.7" font-size="14.6" font-weight="bold" text-anchor="end" fill="#000" stroke="#000" stroke-width="0.2">0</text>
<line x1="45.1" y1="601.8" x2="47.5" y2="601.8" stroke="#000" stroke-width="1.3"/>
<line x1="73.15" y1="552.2" x2="73.15" y2="547.5" stroke="#000" stroke-width="1.8"/>
<path d="M70.45,547.00 L75.85,547.00 L75.35,548.40 L74.05,549.60 L72.25,549.60 L70.95,548.40 Z" fill="#000"/>
<rect x="67.15" y="553.30" width="12.00" height="48.50" fill="#000" stroke="#000" stroke-width="2.4"/>
<line x1="93.0" y1="501.5" x2="93.0" y2="499.5" stroke="#000" stroke-width="1.8"/>
<path d="M90.30,499.00 L95.70,499.00 L95.20,500.40 L93.90,501.60 L92.10,501.60 L90.80,500.40 Z" fill="#000"/>
<rect x="87.05" y="502.60" width="11.90" height="99.20" fill="#fff" stroke="#000" stroke-width="2.4"/>
<line x1="112.75" y1="549.7" x2="112.75" y2="548.8" stroke="#000" stroke-width="1.8"/>
<path d="M110.05,548.30 L115.45,548.30 L114.95,549.70 L113.65,550.90 L111.85,550.90 L110.55,549.70 Z" fill="#000"/>
<rect x="107.15" y="550.80" width="11.20" height="51.00" fill="#c0c0c0" stroke="#000" stroke-width="2.4"/>
<line x1="132.7" y1="549.7" x2="132.7" y2="545.8" stroke="#000" stroke-width="1.8"/>
<path d="M130.00,545.30 L135.40,545.30 L134.90,546.70 L133.60,547.90 L131.80,547.90 L130.50,546.70 Z" fill="#000"/>
<rect x="126.75" y="550.80" width="11.90" height="51.00" fill="#c0c0c0" stroke="#000" stroke-width="2.4"/>
<line x1="153.6" y1="551.5" x2="153.6" y2="549.0" stroke="#000" stroke-width="1.8"/>
<path d="M150.90,548.50 L156.30,548.50 L155.80,549.90 L154.50,551.10 L152.70,551.10 L151.40,549.90 Z" fill="#000"/>
<rect x="147.95" y="552.60" width="11.30" height="49.20" fill="#c0c0c0" stroke="#000" stroke-width="2.4"/>
<line x1="173.85000000000002" y1="553.8" x2="173.85000000000002" y2="548.5" stroke="#000" stroke-width="1.8"/>
<path d="M171.15,548.00 L176.55,548.00 L176.05,549.40 L174.75,550.60 L172.95,550.60 L171.65,549.40 Z" fill="#000"/>
<rect x="168.35" y="554.90" width="11.00" height="46.90" fill="#c0c0c0" stroke="#000" stroke-width="2.4"/>
<line x1="194.1" y1="503.5" x2="194.1" y2="498.5" stroke="#000" stroke-width="1.8"/>
<path d="M191.40,498.00 L196.80,498.00 L196.30,499.40 L195.00,500.60 L193.20,500.60 L191.90,499.40 Z" fill="#000"/>
<rect x="188.15" y="504.60" width="11.90" height="97.20" fill="#fff" stroke="#000" stroke-width="2.4"/>
<line x1="215.2" y1="516.5" x2="215.2" y2="497.1" stroke="#000" stroke-width="1.8"/>
<path d="M212.50,496.60 L217.90,496.60 L217.40,498.00 L216.10,499.20 L214.30,499.20 L213.00,498.00 Z" fill="#000"/>
<rect x="208.25" y="517.60" width="11.50" height="84.20" fill="#fff" stroke="#000" stroke-width="2.4"/>
<line x1="233.6" y1="552.2" x2="233.6" y2="550.5" stroke="#000" stroke-width="1.8"/>
<path d="M230.90,550.00 L236.30,550.00 L235.80,551.40 L234.50,552.60 L232.70,552.60 L231.40,551.40 Z" fill="#000"/>
<rect x="227.95" y="553.30" width="11.30" height="48.50" fill="#c0c0c0" stroke="#000" stroke-width="2.4"/>
<rect x="47.5" y="488.3" width="208.89999999999998" height="113.49999999999994" fill="none" stroke="#000" stroke-width="2.2"/>
<text x="119.3" y="508.3" font-size="15.5" font-weight="bold" text-anchor="start" fill="#000" stroke="#000" stroke-width="0.2">CD39</text>
<text x="11.8" y="539.0" font-size="15.4" font-weight="bold" text-anchor="middle" fill="#000" stroke="#000" stroke-width="0.2" transform="rotate(-90 11.8 539.0)">CD39 (MFI)</text>
<text x="93.3" y="607.5" font-size="13.05" text-anchor="end" fill="#000" stroke="#000" stroke-width="0.35" transform="rotate(-90 93.3 607.5)">empty vector</text>
<text x="113.8" y="607.5" font-size="13.05" text-anchor="end" fill="#000" stroke="#000" stroke-width="0.35" transform="rotate(-90 113.8 607.5)">FL (1-680)</text>
<text x="135.4" y="607.5" font-size="13.05" text-anchor="end" fill="#000" stroke="#000" stroke-width="0.35" transform="rotate(-90 135.4 607.5)">ΔF<tspan font-size="8.5" dy="2.5">0</tspan><tspan dy="-2.5">(</tspan><tspan font-size="0.88em">Δ</tspan><tspan dx="1.8">2-95)</tspan></text>
<text x="156.5" y="607.5" font-size="13.05" text-anchor="end" fill="#000" stroke="#000" stroke-width="0.35" transform="rotate(-90 156.5 607.5)">ΔF<tspan font-size="8.5" dy="2.5">1</tspan><tspan dy="-2.5">(</tspan><tspan font-size="0.88em">Δ</tspan><tspan dx="1.8">96-274)</tspan></text>
<text x="176.4" y="607.5" font-size="13.05" text-anchor="end" fill="#000" stroke="#000" stroke-width="0.35" transform="rotate(-90 176.4 607.5)">ΔF<tspan font-size="8.5" dy="2.5">2</tspan><tspan dy="-2.5">(</tspan><tspan font-size="0.88em">Δ</tspan><tspan dx="1.8">288-564)</tspan></text>
<text x="197.6" y="607.5" font-size="13.05" text-anchor="end" fill="#000" stroke="#000" stroke-width="0.35" transform="rotate(-90 197.6 607.5)">ΔF<tspan font-size="8.5" dy="2.5">3</tspan><tspan dy="-2.5">(</tspan><tspan font-size="0.88em">Δ</tspan><tspan dx="1.8">567-652)</tspan></text>
<text x="219.8" y="607.5" font-size="13.05" text-anchor="end" fill="#000" stroke="#000" stroke-width="0.35" transform="rotate(-90 219.8 607.5)">ΔLIRMD(<tspan font-size="0.88em">Δ</tspan><tspan dx="1.8">593-597)</tspan></text>
<text x="238.9" y="608.7" font-size="13.05" text-anchor="end" fill="#000" stroke="#000" stroke-width="0.35" transform="rotate(-90 238.9 608.7)">FL QW/AA <tspan font-size="9.2" dy="-3.8">615</tspan></text>
<text x="82.3" y="610.5" font-size="14" text-anchor="end" fill="#000" stroke="#000" stroke-width="0.35" transform="rotate(-45 82.3 610.5)">WT</text>
<line x1="79.2" y1="727.2" x2="238.8" y2="727.2" stroke="#000" stroke-width="1.9"/>
<text x="99.0" y="744" font-size="15.6" font-weight="bold"><tspan font-style="italic">Kindlin-2</tspan><tspan font-size="8.4" dx="1.2" dy="-6.8">+/-</tspan><tspan dy="6.8" dx="0.6"> ECs</tspan></text>
<text x="264.2" y="481.7" font-size="25" font-weight="bold" text-anchor="start" fill="#000" stroke="#000" stroke-width="0.2">E</text>
<text x="303.4" y="497.7" font-size="14.6" font-weight="bold" text-anchor="end" fill="#000" stroke="#000" stroke-width="0.2">100</text>
<line x1="304.40000000000003" y1="489.9" x2="306.8" y2="489.9" stroke="#000" stroke-width="1.3"/>
<text x="301.0" y="520.1" font-size="14.6" font-weight="bold" text-anchor="end" fill="#000" stroke="#000" stroke-width="0.2">80</text>
<line x1="304.40000000000003" y1="512.6" x2="306.8" y2="512.6" stroke="#000" stroke-width="1.3"/>
<text x="300.6" y="543.3000000000001" font-size="14.6" font-weight="bold" text-anchor="end" fill="#000" stroke="#000" stroke-width="0.2">60</text>
<line x1="304.40000000000003" y1="535.3" x2="306.8" y2="535.3" stroke="#000" stroke-width="1.3"/>
<text x="300.6" y="566.1" font-size="14.6" font-weight="bold" text-anchor="end" fill="#000" stroke="#000" stroke-width="0.2">40</text>
<line x1="304.40000000000003" y1="558.0" x2="306.8" y2="558.0" stroke="#000" stroke-width="1.3"/>
<text x="300.6" y="588.9000000000001" font-size="14.6" font-weight="bold" text-anchor="end" fill="#000" stroke="#000" stroke-width="0.2">20</text>
<line x1="304.40000000000003" y1="580.6999999999999" x2="306.8" y2="580.6999999999999" stroke="#000" stroke-width="1.3"/>
<text x="301.1" y="608.0" font-size="14.6" font-weight="bold" text-anchor="end" fill="#000" stroke="#000" stroke-width="0.2">0</text>
<line x1="304.40000000000003" y1="603.4" x2="306.8" y2="603.4" stroke="#000" stroke-width="1.3"/>
<line x1="327.85" y1="553.9" x2="327.85" y2="549.7" stroke="#000" stroke-width="1.8"/>
<path d="M325.15,549.20 L330.55,549.20 L330.05,550.60 L328.75,551.80 L326.95,551.80 L325.65,550.60 Z" fill="#000"/>
<rect x="321.65" y="555.00" width="12.40" height="48.40" fill="#000" stroke="#000" stroke-width="2.4"/>
<line x1="347.9" y1="510.5" x2="347.9" y2="503.1" stroke="#000" stroke-width="1.8"/>
<path d="M345.20,502.60 L350.60,502.60 L350.10,504.00 L348.80,505.20 L347.00,505.20 L345.70,504.00 Z" fill="#000"/>
<rect x="342.15" y="511.60" width="11.50" height="91.80" fill="#fff" stroke="#000" stroke-width="2.4"/>
<line x1="368.7" y1="559.6" x2="368.7" y2="549.3" stroke="#000" stroke-width="1.8"/>
<path d="M366.00,548.80 L371.40,548.80 L370.90,550.20 L369.60,551.40 L367.80,551.40 L366.50,550.20 Z" fill="#000"/>
<rect x="362.95" y="560.70" width="11.50" height="42.70" fill="#c0c0c0" stroke="#000" stroke-width="2.4"/>
<line x1="389.0" y1="552.0" x2="389.0" y2="549.3" stroke="#000" stroke-width="1.8"/>
<path d="M386.30,548.80 L391.70,548.80 L391.20,550.20 L389.90,551.40 L388.10,551.40 L386.80,550.20 Z" fill="#000"/>
<rect x="383.25" y="553.10" width="11.50" height="50.30" fill="#c0c0c0" stroke="#000" stroke-width="2.4"/>
<line x1="409.4" y1="557.5" x2="409.4" y2="552.3" stroke="#000" stroke-width="1.8"/>
<path d="M406.70,551.80 L412.10,551.80 L411.60,553.20 L410.30,554.40 L408.50,554.40 L407.20,553.20 Z" fill="#000"/>
<rect x="403.55" y="558.60" width="11.70" height="44.80" fill="#c0c0c0" stroke="#000" stroke-width="2.4"/>
<line x1="430.25" y1="560.1" x2="430.25" y2="557.1" stroke="#000" stroke-width="1.8"/>
<path d="M427.55,556.60 L432.95,556.60 L432.45,558.00 L431.15,559.20 L429.35,559.20 L428.05,558.00 Z" fill="#000"/>
<rect x="424.45" y="561.20" width="11.60" height="42.20" fill="#c0c0c0" stroke="#000" stroke-width="2.4"/>
<line x1="451.1" y1="515.8" x2="451.1" y2="499.4" stroke="#000" stroke-width="1.8"/>
<path d="M448.40,498.90 L453.80,498.90 L453.30,500.30 L452.00,501.50 L450.20,501.50 L448.90,500.30 Z" fill="#000"/>
<rect x="445.45" y="516.90" width="11.30" height="86.50" fill="#fff" stroke="#000" stroke-width="2.4"/>
<line x1="472.15" y1="503.0" x2="472.15" y2="497.1" stroke="#000" stroke-width="1.8"/>
<path d="M469.45,496.60 L474.85,496.60 L474.35,498.00 L473.05,499.20 L471.25,499.20 L469.95,498.00 Z" fill="#000"/>
<rect x="466.25" y="504.10" width="11.80" height="99.30" fill="#fff" stroke="#000" stroke-width="2.4"/>
<line x1="492.79999999999995" y1="557.8" x2="492.79999999999995" y2="552.5" stroke="#000" stroke-width="1.8"/>
<path d="M490.10,552.00 L495.50,552.00 L495.00,553.40 L493.70,554.60 L491.90,554.60 L490.60,553.40 Z" fill="#000"/>
<rect x="486.85" y="558.90" width="11.90" height="44.50" fill="#c0c0c0" stroke="#000" stroke-width="2.4"/>
<rect x="306.8" y="489.9" width="206.3" height="113.5" fill="none" stroke="#000" stroke-width="2.2"/>
<text x="376" y="506" font-size="15.5" font-weight="bold" text-anchor="start" fill="#000" stroke="#000" stroke-width="0.2">CD73</text>
<text x="276.2" y="540.5" font-size="15.4" font-weight="bold" text-anchor="middle" fill="#000" stroke="#000" stroke-width="0.2" transform="rotate(-90 276.2 540.5)">CD73 (MFI)</text>
<text x="349.6" y="609" font-size="12.9" text-anchor="end" fill="#000" stroke="#000" stroke-width="0.35" transform="rotate(-90 349.6 609)">empty vector</text>
<text x="370.6" y="609" font-size="12.9" text-anchor="end" fill="#000" stroke="#000" stroke-width="0.35" transform="rotate(-90 370.6 609)">FL (1-680)</text>
<text x="390.8" y="609" font-size="12.9" text-anchor="end" fill="#000" stroke="#000" stroke-width="0.35" transform="rotate(-90 390.8 609)">ΔF<tspan font-size="8.5" dy="2.5">0</tspan><tspan dy="-2.5">(</tspan><tspan font-size="0.88em">Δ</tspan><tspan dx="1.8">2-95)</tspan></text>
<text x="412.8" y="609" font-size="12.9" text-anchor="end" fill="#000" stroke="#000" stroke-width="0.35" transform="rotate(-90 412.8 609)">ΔF<tspan font-size="8.5" dy="2.5">1</tspan><tspan dy="-2.5">(</tspan><tspan font-size="0.88em">Δ</tspan><tspan dx="1.8">96-274)</tspan></text>
<text x="433.8" y="609" font-size="12.9" text-anchor="end" fill="#000" stroke="#000" stroke-width="0.35" transform="rotate(-90 433.8 609)">ΔF<tspan font-size="8.5" dy="2.5">2</tspan><tspan dy="-2.5">(</tspan><tspan font-size="0.88em">Δ</tspan><tspan dx="1.8">288-564)</tspan></text>
<text x="454.6" y="609" font-size="12.9" text-anchor="end" fill="#000" stroke="#000" stroke-width="0.35" transform="rotate(-90 454.6 609)">ΔF<tspan font-size="8.5" dy="2.5">3</tspan><tspan dy="-2.5">(</tspan><tspan font-size="0.88em">Δ</tspan><tspan dx="1.8">567-652)</tspan></text>
<text x="475.4" y="609" font-size="12.9" text-anchor="end" fill="#000" stroke="#000" stroke-width="0.35" transform="rotate(-90 475.4 609)">ΔLIRMD(<tspan font-size="0.88em">Δ</tspan><tspan dx="1.8">593-597)</tspan></text>
<text x="497.3" y="610.2" font-size="12.9" text-anchor="end" fill="#000" stroke="#000" stroke-width="0.35" transform="rotate(-90 497.3 610.2)">FL QW/AA <tspan font-size="9.2" dy="-3.8">615</tspan></text>
<text x="335.6" y="612.8" font-size="14" text-anchor="end" fill="#000" stroke="#000" stroke-width="0.35" transform="rotate(-45 335.6 612.8)">WT</text>
<line x1="340" y1="727.2" x2="507.5" y2="727.2" stroke="#000" stroke-width="1.9"/>
<text x="360.7" y="744" font-size="15.6" font-weight="bold"><tspan font-style="italic">Kindlin-2</tspan><tspan font-size="8.4" dx="1.2" dy="-6.8">+/-</tspan><tspan dy="6.8" dx="0.6"> ECs</tspan></text>
</svg>
</body></html>
